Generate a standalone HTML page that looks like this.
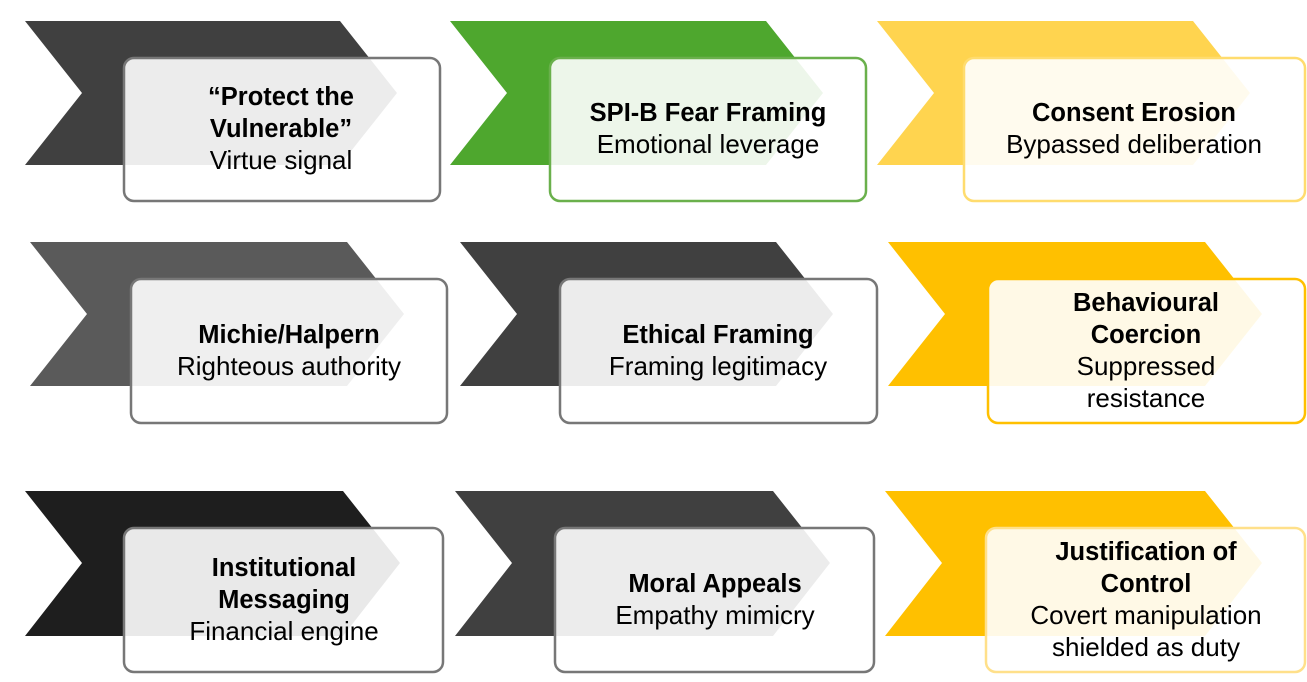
<!DOCTYPE html>
<html><head><meta charset="utf-8"><style>
body{margin:0;background:#fff;}
svg{display:block}
text{font-family:"Liberation Sans",sans-serif;font-size:26px;fill:#000;text-anchor:middle}
.b{font-weight:bold;font-size:25.5px}
</style></head><body>
<svg width="1307" height="682" viewBox="0 0 1307 682">
<g>
<polygon points="25,21 340,21 397,93 340,165 25,165 82,93" fill="#404040"/>
<polygon points="450,21 766,21 823,93 766,165 450,165 507,93" fill="#4ea72e"/>
<polygon points="877,21 1193,21 1250,93 1193,165 877,165 934,93" fill="#ffd44f"/>
<polygon points="30,242 347,242 404,314 347,386 30,386 87,314" fill="#5a5a5a"/>
<polygon points="460,242 776,242 833,314 776,386 460,386 517,314" fill="#404040"/>
<polygon points="888,242 1205,242 1262,314 1205,386 888,386 945,314" fill="#ffc000"/>
<polygon points="25,491 343,491 400,563 343,636 25,636 82,563" fill="#1e1e1e"/>
<polygon points="455,491 773,491 830,563 773,636 455,636 512,563" fill="#404040"/>
<polygon points="885,491 1205,491 1262,563 1205,636 885,636 942,563" fill="#ffc000"/>
</g>
<g fill="#ffffff" fill-opacity="0.9" stroke-width="2.5">
<rect x="124" y="58" width="316" height="143" rx="10" stroke="#777"/>
<rect x="550" y="58" width="316" height="143" rx="10" stroke="#6ab04c"/>
<rect x="964" y="58" width="341" height="143" rx="10" stroke="#ffdc6e"/>
<rect x="131" y="279" width="316" height="144" rx="10" stroke="#777"/>
<rect x="560" y="279" width="317" height="144" rx="10" stroke="#777"/>
<rect x="988" y="279" width="317" height="144" rx="10" stroke="#ffc000"/>
<rect x="124" y="528" width="319" height="144" rx="10" stroke="#777"/>
<rect x="555" y="528" width="319" height="144" rx="10" stroke="#777"/>
<rect x="986" y="528" width="319" height="144" rx="10" stroke="#ffe08a"/>
</g>
<text class="b" x="281" y="105">“Protect the</text>
<text class="b" x="281" y="137">Vulnerable”</text>
<text x="281" y="169">Virtue signal</text>
<text class="b" x="708" y="121">SPI-B Fear Framing</text>
<text x="708" y="153">Emotional leverage</text>
<text class="b" x="1134" y="121">Consent Erosion</text>
<text x="1134" y="153">Bypassed deliberation</text>
<text class="b" x="289" y="343">Michie/Halpern</text>
<text x="289" y="375">Righteous authority</text>
<text class="b" x="718" y="343">Ethical Framing</text>
<text x="718" y="375">Framing legitimacy</text>
<text class="b" x="1146" y="311">Behavioural</text>
<text class="b" x="1146" y="343">Coercion</text>
<text x="1146" y="375">Suppressed</text>
<text x="1146" y="407">resistance</text>
<text class="b" x="284" y="576">Institutional</text>
<text class="b" x="284" y="608">Messaging</text>
<text x="284" y="640">Financial engine</text>
<text class="b" x="715" y="592">Moral Appeals</text>
<text x="715" y="624">Empathy mimicry</text>
<text class="b" x="1146" y="560">Justification of</text>
<text class="b" x="1146" y="592">Control</text>
<text x="1146" y="624">Covert manipulation</text>
<text x="1146" y="656">shielded as duty</text>
</svg>
</body></html>
